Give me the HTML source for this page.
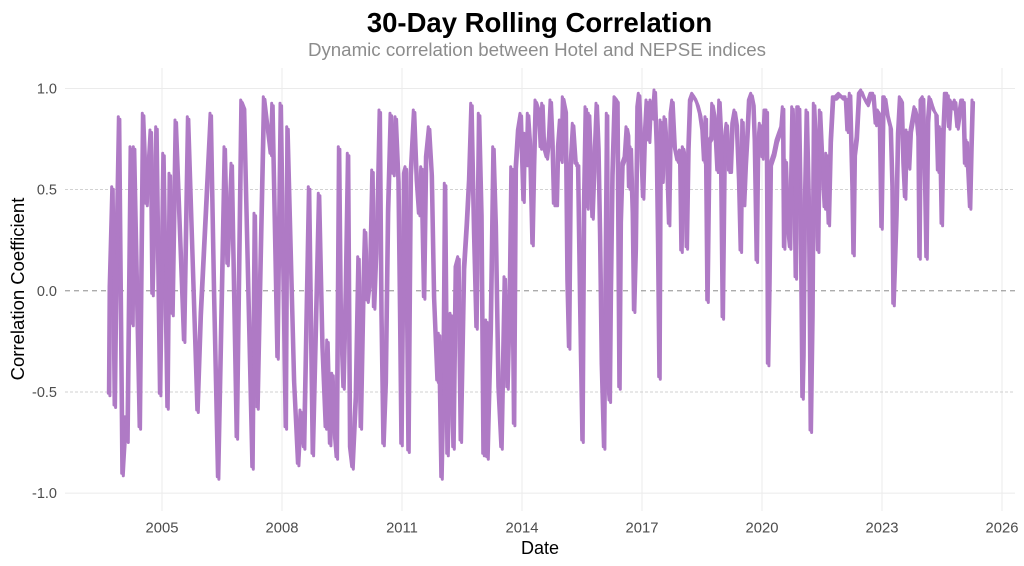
<!DOCTYPE html>
<html><head><meta charset="utf-8"><style>
html,body{margin:0;padding:0;background:#fff;}
svg{display:block;font-family:"Liberation Sans",Arial,sans-serif;}
</style></head><body>
<svg width="1024" height="566" viewBox="0 0 1024 566" xmlns="http://www.w3.org/2000/svg">
<defs>
<polyline id="s" fill="none" stroke="#AF7AC5" stroke-width="3" stroke-linejoin="round" stroke-linecap="round" points="
108.3,393.3 109,286.7 111.7,186.7 114,405 116,240 118.3,116.7 121.7,473.3 125,416.7 126.7,440 130,146.7 131.7,323.3 133.3,146.7 139,426.7 142.3,113.3 145.7,203.3 150,130 151.7,293.3 155.7,126.7 159.3,393.3 162.7,153.3 166.7,406.7 169,173.3 171.7,313.3 175,120 183.3,340 187.3,116.7 196.7,410 200,313.3 210,113.3 213.3,293.3 217.3,476.7 220,346.7 224,146.7 226.7,263.3 231,163.3 236,436.7 240.7,100 243.3,106.7 251.7,466.7 254,213.3 256.7,406.7 263.3,96.7 270,153.3 271.7,103.3 276.7,356.7 280,103.3 285,426.7 286.7,126.7 293.3,380 297.3,463.3 300,410 303.3,446.7 308.3,186.7 312,453.3 318.3,193.3
321.7,346.7 325,426.7 326.7,340 329.3,443.3 331.7,373.3 333.3,423.3 336,456.7 338.3,146.7 340,313.3 342.7,386.7 345,290 347.3,153.3 349.3,446.7 351.7,466.7 355,396.7 357.7,256.7 360,426.7 362.7,286.7 364.3,230 366.7,300 369.3,276.7 371.7,170 373.3,306.7 376.7,216.7 379,110 380.7,313.3 382.7,443.3 385,380 387.3,210 390,113.3 392.7,173.3 395,116.7 397.7,180 399.3,313.3 400.7,443.3 403.3,173.3 405,166.7 407.7,450 410,173.3 413.3,110 416,180 418.3,213.3 420.7,166.7 423.3,296.7 425.3,156.7 428.3,126.7 431,173.3 433.3,296.7 436.7,380 438.3,333.3 440.7,476.7 442.7,380 444.3,183.3 446.7,453.3 450,313.3 452.7,446.7 455,266.7 457.7,256.7 460,440 463.3,266.7 466,223.3 468.3,180 470.7,103.3 473.3,233.3 475.7,326.7 478.3,113.3 480.7,213.3 482.7,453.3 485.7,320 486.7,456.7 490,326.7 492.7,146.7 495,223.3 497.7,386.7 500.7,446.7 504,276.7 506.7,386.7 509,296.7 510.7,166.7 513.3,423.3 515,166.7 517.3,130 520,113.3
522.7,200 524,133.3 526,163.3 527.3,113.3 529.3,143.3 531.7,243.3 533.3,163.3 535,100 538.3,110 540,146.7 541.7,103.3 543.3,146.7 546,156.7 548.3,136.7 550,100 551.7,140 553.3,203.3 556,203.3 557.3,146.7 559.3,120 560.7,160 562.3,96.7 565,110 566.7,280 568.3,346.7 570,163.3 572.3,123.3 575,163.3 577.3,163.3 579.3,300 581.7,440 583.3,203.3 585,106.7 586.7,206.7 588.3,113.3 590,160 591.7,216.7 594,153.3 596,103.3 597.7,146.7 599.3,233.3 601,363.3 603.3,446.7 605,253.3 606.3,113.3 607.3,380 609,400 610,296.7 611.7,173.3 614,96.7 616.7,100 618.7,386.7 620,220 621.7,163.3 624,156.7 626,126.7 627.3,133.3 628.3,186.7 630,146.7 632,213.3 633.3,310 635,246.7 636.7,106.7 638.3,93.3 640,133.3 642.3,196.7 644,136.7 646,100 648.3,140 650,100 652,116.7 654,90 656,146.7 657.3,243.3 658.7,376.7 660,120 661.7,180 664,116.7 666,146.7 668.3,223.3 670,113.3 671.7,100 674,146.7 676.7,160 679.3,150 680.7,250 682.3,146.7 684.3,156.7 686,246.7 687.7,146.7 689.3,100 691.7,93.3 694,96.7 696.7,103.3 699.3,113.3 701.7,130 703.3,160 705,116.7 706.7,300 708.7,140 710.7,136.7 711.7,103.3 714,116.7 716.7,170 718.7,100 720,126.7 722,316.7 724,140 726,123.3 728.3,170
730,170 731.7,123.3 734,110 736,123.3 738.3,180 740,250 741.7,120 743.3,203.3 745,163.3 746.7,133.3 748.3,100 750.7,93.3 752.7,103.3 754,140 756,260 757.3,146.7 759.3,123.3 761.7,156.7 764,110 766,110 767.3,363.3 768.7,280 770,163.3 773.3,153.3 776,140 778.3,133.3 780.7,126.7 782.3,106.7 783.3,246.7 785,160 787.3,226.7 789.3,246.7 791.7,106.7 793.3,146.7 795,276.7 796.7,106.7 798.3,106.7 800,213.3 801.7,396.7 802.7,353.3 804,213.3 806,110 808.3,213.3 810,430 811.7,313.3 813.3,103.3 815,140 817.3,250 819.3,110 821.7,163.3 824,206.7 825.7,153.3 828,223.3 830,140 832.3,96.7 835,96.7 838.3,93.3 841.7,96.7 845,96.7 846.7,130 849.3,93.3 851.7,186.7 852.7,253.3 854,153.3 856,136.7 858.3,93.3 860.7,90 863.3,96.7 866.7,103.3 870,93.3 872.7,93.3 875,123.3 877.3,110 879,113.3 880.7,226.7 882.7,96.7 884.3,96.7 886.7,113.3 888.3,120 890,126.7 891.7,186.7 892.7,303.3 894,266.7 895.7,213.3 897.3,133.3 899.3,96.7 901,100 902.7,163.3 904.3,196.7 906,130 908.3,166.7 910,130 912.3,116.7 914,106.7 915.7,113.3 917.7,136.7 918.7,256.7 920,100 922.3,96.7 924.3,180 925.7,256.7 927.3,120 929,96.7 931,103.3 933.3,110 935.7,113.3 937.3,170 939.3,126.7 941,223.3 942.7,130 944.3,93.3 946.7,93.3 948.3,126.7 950,100 952.3,106.7 954.3,100 956.7,126.7 958.7,113.3 960.7,100 962.7,100 964.3,163.3 966,140 967.7,173.3 969.3,206.7 970.7,146.7 972,100"/>
</defs>
<rect width="1024" height="566" fill="#fff"/>
<g stroke="#ebebeb" stroke-width="1">
<line x1="162" y1="68" x2="162" y2="511"/>
<line x1="282" y1="68" x2="282" y2="511"/>
<line x1="402" y1="68" x2="402" y2="511"/>
<line x1="522" y1="68" x2="522" y2="511"/>
<line x1="642" y1="68" x2="642" y2="511"/>
<line x1="762" y1="68" x2="762" y2="511"/>
<line x1="882" y1="68" x2="882" y2="511"/>
<line x1="1002" y1="68" x2="1002" y2="511"/>
<line x1="65" y1="88.5" x2="1015" y2="88.5"/>
<line x1="65" y1="493.1" x2="1015" y2="493.1"/>
</g>
<g stroke="#c4c4c4" stroke-width="0.8" stroke-dasharray="3,2">
<line x1="65" y1="189.6" x2="1015" y2="189.6"/>
<line x1="65" y1="392" x2="1015" y2="392"/>
</g>
<line x1="65" y1="290.8" x2="1015" y2="290.8" stroke="#7a7a7a" stroke-width="0.8" stroke-dasharray="5,4"/>
<use href="#s"/>
<use href="#s" transform="translate(1.6,2.5)"/>
<text x="539.5" y="32" text-anchor="middle" font-size="27.5" font-weight="bold" fill="#000">30-Day Rolling Correlation</text>
<text x="537" y="56" text-anchor="middle" font-size="18.7" fill="#8c8c8c">Dynamic correlation between Hotel and NEPSE indices</text>
<g font-size="14.5" fill="#4d4d4d" text-anchor="end">
<text x="57" y="93.5">1.0</text>
<text x="57" y="194.6">0.5</text>
<text x="57" y="295.8">0.0</text>
<text x="57" y="397">-0.5</text>
<text x="57" y="498.1">-1.0</text>
</g>
<g font-size="14.8" fill="#4d4d4d" text-anchor="middle">
<text x="162" y="532.7">2005</text>
<text x="282" y="532.7">2008</text>
<text x="402" y="532.7">2011</text>
<text x="522" y="532.7">2014</text>
<text x="642" y="532.7">2017</text>
<text x="762" y="532.7">2020</text>
<text x="882" y="532.7">2023</text>
<text x="1002" y="532.7">2026</text>
</g>
<text x="540" y="554" text-anchor="middle" font-size="18" fill="#000">Date</text>
<text transform="translate(24,289) rotate(-90)" text-anchor="middle" font-size="18.5" fill="#000">Correlation Coefficient</text>
</svg>
</body></html>
